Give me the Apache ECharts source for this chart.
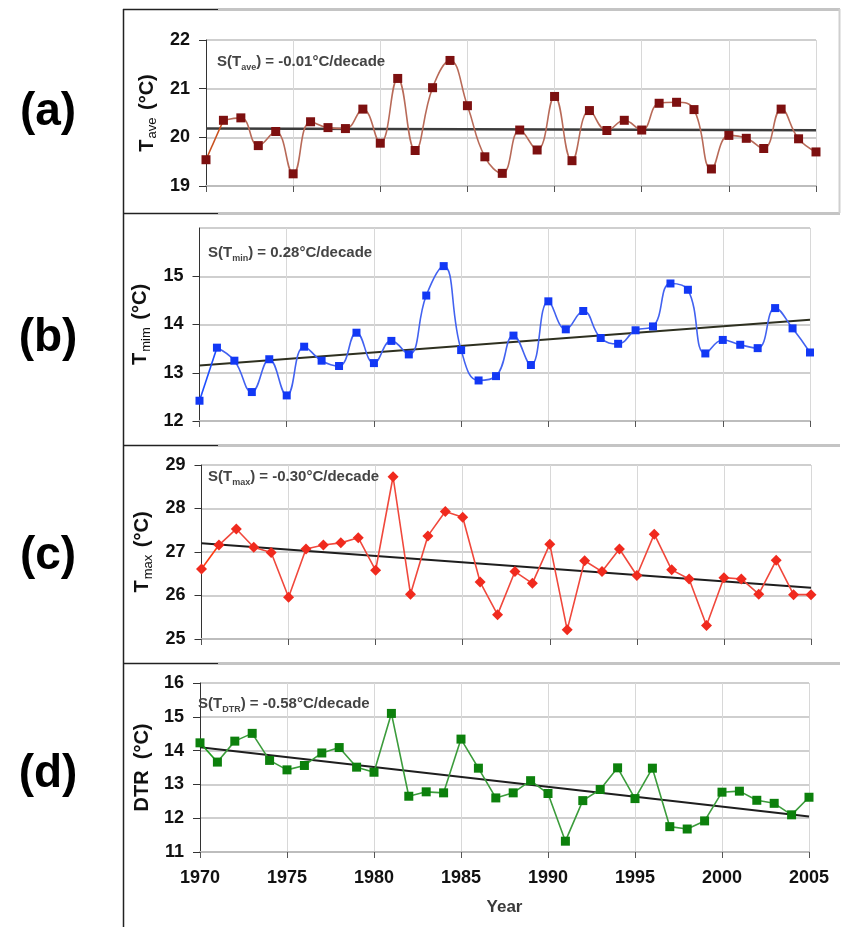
<!DOCTYPE html>
<html><head><meta charset="utf-8">
<script src="https://cdn.jsdelivr.net/npm/echarts@6/dist/echarts.min.js"></script>
<style>html,body{margin:0;padding:0;background:#fff}#c{width:842px;height:927px}</style>
</head><body><div id="c"></div>
<script>
const years = [1970,1971,1972,1973,1974,1975,1976,1977,1978,1979,1980,1981,1982,1983,1984,1985,1986,1987,1988,1989,1990,1991,1992,1993,1994,1995,1996,1997,1998,1999,2000,2001,2002,2003,2004,2005];
const tave = [19.54,20.35,20.40,19.83,20.12,19.25,20.32,20.20,20.18,20.58,19.88,21.21,19.73,21.02,21.58,20.65,19.60,19.26,20.15,19.74,20.84,19.52,20.55,20.14,20.35,20.15,20.70,20.72,20.57,19.35,20.04,19.98,19.77,20.58,19.97,19.70];
const tmin = [12.42,13.52,13.25,12.60,13.28,12.53,13.54,13.25,13.14,13.83,13.20,13.66,13.38,14.60,15.21,13.47,12.84,12.93,13.77,13.16,14.48,13.90,14.28,13.72,13.60,13.88,13.96,14.85,14.72,13.40,13.68,13.58,13.51,14.34,13.92,13.42];
const tmax = [26.61,27.16,27.53,27.11,26.99,25.96,27.07,27.16,27.21,27.33,26.58,28.73,26.03,27.37,27.93,27.80,26.31,25.56,26.55,26.28,27.18,25.21,26.80,26.55,27.07,26.46,27.41,26.59,26.38,25.31,26.41,26.38,26.03,26.81,26.02,26.02];
const dtr = [14.23,13.66,14.28,14.51,13.71,13.43,13.56,13.93,14.09,13.51,13.36,15.10,12.65,12.78,12.75,14.34,13.48,12.60,12.75,13.11,12.73,11.32,12.52,12.85,13.49,12.58,13.48,11.75,11.68,11.92,12.77,12.80,12.53,12.44,12.10,12.62];
const trendYears = [1970, 2005];
const taveTrend = [20.18, 20.145];
const tminTrend = [13.15, 14.10];
const tmaxTrend = [27.20, 26.18];
const dtrTrend = [14.10, 12.05];
const panelLetters = ['(a)', '(b)', '(c)', '(d)'];
const slopeTexts = ['-0.01', '0.28', '-0.30', '-0.58'];
const slopeSubs = ['ave', 'min', 'max', 'DTR'];
const axisTitles = [['T', 'ave', ' (°C)'], ['T', 'mim', ' (°C)'], ['T', 'max', ' (°C)'], ['DTR', '', '  (°C)']];
const yRanges = [[19, 22], [12, 16], [25, 29], [11, 16]];
const xRange = [1970, 2005];
const xLabelName = 'Year';

const FONT = "'Liberation Sans', Arial, Helvetica, sans-serif";
const panels = [
  {vals: tave, trend: taveTrend, grid: {left: 206, right: 26, top: 40, height: 146},
   line: '#b86a58', mark: '#7d1010', first: '#c8501e', symbol: 'rect', size: 9, smooth: true,
   gap: 37, tColor: '#3c3c3c', tWidth: 2.5, ann: [217, 62], letterY: 112, showMax: true},
  {vals: tmin, trend: tminTrend, grid: {left: 199.5, right: 32, top: 228, height: 193},
   line: '#4262f0', mark: '#1238f5', first: '#1d4dff', symbol: 'rect', size: 8, smooth: true,
   gap: 36, tColor: '#2e3020', tWidth: 2, ann: [208, 253], letterY: 338, showMax: false},
  {vals: tmax, trend: tmaxTrend, grid: {left: 201.5, right: 31, top: 465, height: 174},
   line: '#f0483c', mark: '#f02a1e', first: '#ff3a10', symbol: 'diamond', size: 11, smooth: false,
   gap: 36, tColor: '#1e1e1e', tWidth: 2, ann: [208, 477], letterY: 556, showMax: true},
  {vals: dtr, trend: dtrTrend, grid: {left: 200, right: 33, top: 683, height: 169},
   line: '#3c9c3c', mark: '#0c800c', first: '#1fa01f', symbol: 'rect', size: 9, smooth: false,
   gap: 46, tColor: '#1e1e1e', tWidth: 2, ann: [198, 704], letterY: 774, showMax: true}
];

const grids = [], xAxes = [], yAxes = [], series = [], graphics = [];
panels.forEach((p, i) => {
  grids.push(Object.assign({containLabel: false}, p.grid));
  const isLast = i === panels.length - 1;
  xAxes.push({
    type: 'value', gridIndex: i, min: xRange[0], max: xRange[1], interval: 5,
    axisLine: {show: true, onZero: false, lineStyle: {color: '#bdbdbd', width: 2}},
    axisTick: {show: true, length: 6, lineStyle: {color: '#555', width: 1}},
    axisLabel: {show: isLast, fontFamily: FONT, fontSize: 18, fontWeight: 'bold', color: '#111', margin: 17,
      formatter: v => String(v)},
    splitLine: {show: true, lineStyle: {color: '#d8d8d8', width: 1}},
    name: isLast ? xLabelName : '', nameLocation: 'middle', nameGap: 47,
    nameTextStyle: {fontFamily: FONT, fontSize: 17, fontWeight: 'bold', color: '#3a3a3a'}
  });
  const t = axisTitles[i];
  yAxes.push({
    type: 'value', gridIndex: i, min: yRanges[i][0], max: yRanges[i][1], interval: 1,
    axisLine: {show: true, onZero: false, lineStyle: {color: '#333', width: 1}},
    axisTick: {show: true, length: 7, lineStyle: {color: '#333', width: 1}},
    axisLabel: {fontFamily: FONT, fontSize: 18, fontWeight: 'bold', color: '#111', margin: 16, showMaxLabel: p.showMax},
    splitLine: {show: true, lineStyle: {color: '#cfcfcf', width: 2}},
    name: t[1] ? '{t|' + t[0] + '}{s|' + t[1] + '}{t|' + t[2] + '}' : '{t|' + t[0] + t[2] + '}',
    nameLocation: 'middle', nameRotate: 90, nameGap: p.gap,
    nameTextStyle: {
      rich: {
        t: {fontFamily: FONT, fontSize: 20, fontWeight: 'bold', color: '#111', lineHeight: 24, verticalAlign: 'middle'},
        s: {fontFamily: FONT, fontSize: 13, color: '#111', lineHeight: 24, verticalAlign: 'bottom', padding: [0, 2, 0, 1]}
      }
    }
  });
  const v = p.vals;
  series.push({
    type: 'line', xAxisIndex: i, yAxisIndex: i, z: 3,
    data: years.slice(1).map((y, k) => [y, v[k + 1]]),
    smooth: p.smooth ? 0.45 : false, symbol: p.symbol, symbolSize: p.size,
    lineStyle: {color: p.line, width: 1.6}, itemStyle: {color: p.mark}, animation: false
  });
  series.push({
    type: 'line', xAxisIndex: i, yAxisIndex: i, z: 3,
    data: [[years[0], v[0]], {value: [years[1], v[1]], symbol: 'none'}],
    symbol: p.symbol, symbolSize: p.size,
    lineStyle: {color: p.first, width: 1.6}, itemStyle: {color: p.mark}, animation: false
  });
  series.push({
    type: 'line', xAxisIndex: i, yAxisIndex: i, z: 2,
    data: trendYears.map((y, k) => [y, p.trend[k]]), symbol: 'none',
    lineStyle: {color: p.tColor, width: p.tWidth}, animation: false
  });
  graphics.push({
    type: 'text', x: 48, y: p.letterY,
    style: {text: panelLetters[i], font: 'bold 46px ' + FONT, fill: '#000', align: 'center', verticalAlign: 'middle'}
  });
  graphics.push({
    type: 'text', x: p.ann[0], y: p.ann[1], z: 10,
    style: {
      text: '{a|S(T}{s|' + slopeSubs[i] + '}{a|) = ' + slopeTexts[i] + '°C/decade}',
      verticalAlign: 'middle',
      rich: {
        a: {fontFamily: FONT, fontSize: 15, fontWeight: 'bold', fill: '#444', lineHeight: 20, verticalAlign: 'middle'},
        s: {fontFamily: FONT, fontSize: 9, fontWeight: 'bold', fill: '#444', lineHeight: 20, verticalAlign: 'bottom'}
      }
    }
  });
});

// frame decoration
const sepY = [9.5, 213.5, 445.5, 663.5];
graphics.push({type: 'line', shape: {x1: 123.5, y1: 9, x2: 123.5, y2: 927}, style: {stroke: '#222', lineWidth: 1.5}});
sepY.forEach(y => {
  graphics.push({type: 'line', shape: {x1: 123, y1: y, x2: 218, y2: y}, style: {stroke: '#222', lineWidth: 1.5}});
  graphics.push({type: 'line', shape: {x1: 218, y1: y, x2: 840, y2: y}, style: {stroke: '#c4c4c4', lineWidth: 3}});
});
graphics.push({type: 'line', shape: {x1: 839.5, y1: 9, x2: 839.5, y2: 213}, style: {stroke: '#cfcfcf', lineWidth: 2}});

const chart = echarts.init(document.getElementById('c'), null, {renderer: 'canvas'});
chart.setOption({
  animation: false,
  backgroundColor: '#fff',
  grid: grids, xAxis: xAxes, yAxis: yAxes, series: series, graphic: graphics
});
</script></body></html>
